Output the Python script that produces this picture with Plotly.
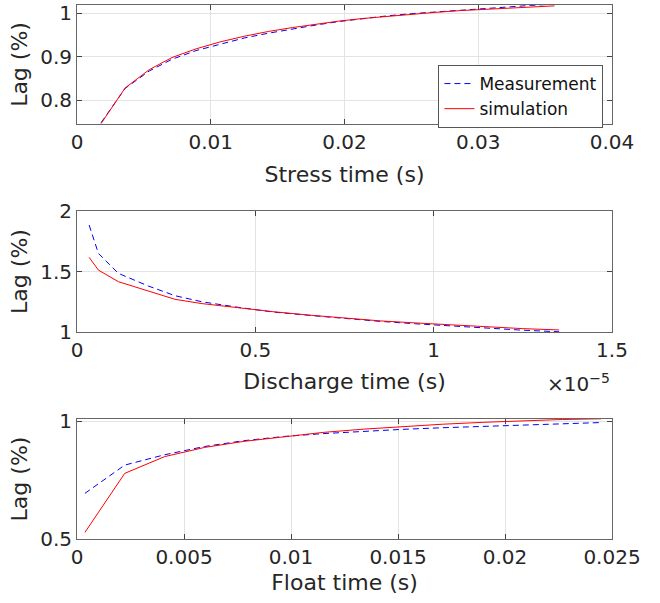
import plotly.graph_objects as go

# ---- Data ----
stress_t = [0.0018, 0.0036, 0.0054, 0.0071, 0.0089, 0.0107, 0.0125, 0.0143, 0.0161, 0.0179,
            0.0196, 0.0214, 0.0232, 0.0250, 0.0268, 0.0286, 0.0304, 0.0321, 0.0339, 0.0357]
stress_meas = [0.748, 0.827, 0.867, 0.894, 0.914, 0.929, 0.943, 0.954, 0.964, 0.973,
               0.981, 0.988, 0.994, 0.999, 1.003, 1.007, 1.011, 1.015, 1.018, 1.021]
stress_sim = [0.746, 0.828, 0.870, 0.898, 0.918, 0.934, 0.947, 0.958, 0.967, 0.975,
              0.982, 0.988, 0.993, 0.998, 1.002, 1.006, 1.009, 1.012, 1.015, 1.017]

discharge_t = [0.034e-5, 0.06e-5, 0.116e-5, 0.2e-5, 0.275e-5, 0.35e-5, 0.45e-5, 0.55e-5,
               0.65e-5, 0.75e-5, 0.85e-5, 0.95e-5, 1.05e-5, 1.15e-5, 1.25e-5, 1.352e-5]
discharge_meas = [1.884, 1.650, 1.485, 1.380, 1.300, 1.250, 1.205, 1.165,
                  1.138, 1.110, 1.088, 1.068, 1.050, 1.032, 1.015, 1.002]
discharge_sim = [1.617, 1.512, 1.416, 1.338, 1.270, 1.235, 1.200, 1.168,
                 1.140, 1.113, 1.092, 1.075, 1.058, 1.042, 1.028, 1.017]

float_t = [0.00037, 0.00223, 0.00409, 0.00595, 0.0078, 0.0097, 0.0115,
           0.0134, 0.0152, 0.0171, 0.0190, 0.0208, 0.0227, 0.0245]
float_meas = [0.694, 0.814, 0.858, 0.893, 0.918, 0.936, 0.948,
              0.958, 0.966, 0.973, 0.979, 0.984, 0.990, 0.995]
float_sim = [0.528, 0.779, 0.850, 0.889, 0.915, 0.936, 0.953,
             0.967, 0.978, 0.988, 0.996, 1.003, 1.008, 1.011]

x1_ticks = [0, 0.01, 0.02, 0.03, 0.04]
x1_text = ["0", "0.01", "0.02", "0.03", "0.04"]
y1_ticks = [0.8, 0.9, 1.0]
y1_text = ["0.8", "0.9", "1"]
x2_ticks = [0, 0.5e-5, 1.0e-5, 1.5e-5]
x2_text = ["0", "0.5", "1", "1.5"]
y2_ticks = [1.0, 1.5, 2.0]
y2_text = ["1", "1.5", "2"]
x3_ticks = [0, 0.005, 0.01, 0.015, 0.02, 0.025]
x3_text = ["0", "0.005", "0.01", "0.015", "0.02", "0.025"]
y3_ticks = [0.5, 1.0]
y3_text = ["0.5", "1"]

BLUE = "rgb(0,0,255)"
RED = "rgb(255,0,0)"
FONT = "DejaVu Sans"
TXT = "#262626"

fig = go.Figure()
pairs = [("x", "y", stress_t, stress_meas, stress_sim, True),
         ("x2", "y2", discharge_t, discharge_meas, discharge_sim, False),
         ("x3", "y3", float_t, float_meas, float_sim, False)]
for xa, ya, t, m, s, show in pairs:
    fig.add_trace(go.Scatter(x=t, y=m, mode="lines", name="Measurement", xaxis=xa, yaxis=ya,
                             line=dict(color=BLUE, width=1, dash="6px,4px"), showlegend=show))
    fig.add_trace(go.Scatter(x=t, y=s, mode="lines", name="simulation", xaxis=xa, yaxis=ya,
                             line=dict(color=RED, width=1), showlegend=show))

def axstyle(**kw):
    d = dict(showline=True, linecolor="#666666", linewidth=1, mirror="ticks",
             ticks="inside", ticklen=5, tickcolor="#444444", showgrid=True,
             gridcolor="#e3e3e3", gridwidth=1, zeroline=False, automargin=False,
             tickfont=dict(family=FONT, size=20, color=TXT), tickmode="array")
    d.update(kw)
    return d

tfont = dict(family=FONT, size=22, color=TXT)

fig.update_layout(
    width=660, height=603,
    margin=dict(l=77, r=48, t=5, b=64),
    paper_bgcolor="white", plot_bgcolor="white",
    font=dict(family=FONT, color=TXT),
    showlegend=True,
    legend=dict(x=0.984, y=0.8876, xanchor="right", yanchor="top",
                bgcolor="white", bordercolor="#555555", borderwidth=1,
                font=dict(family=FONT, size=17, color="#111111"),
                tracegroupgap=0, itemwidth=30),
    xaxis=axstyle(domain=[0, 1], anchor="y", range=[0, 0.04], tickvals=x1_ticks, ticktext=x1_text,
                  title=dict(text="Stress time (s)", font=tfont, standoff=13)),
    yaxis=axstyle(domain=[0.7772, 1.0], anchor="x", range=[0.745, 1.019], tickvals=y1_ticks, ticktext=y1_text,
                  title=dict(text="Lag (%)", font=tfont, standoff=6)),
    xaxis2=axstyle(domain=[0, 1], anchor="y2", range=[0, 1.5e-5], tickvals=x2_ticks, ticktext=x2_text,
                   title=dict(text="Discharge time (s)", font=tfont, standoff=12)),
    yaxis2=axstyle(domain=[0.3876, 0.6142], anchor="x2", range=[1.0, 2.0], tickvals=y2_ticks, ticktext=y2_text,
                   title=dict(text="Lag (%)", font=tfont, standoff=6)),
    xaxis3=axstyle(domain=[0, 1], anchor="y3", range=[0, 0.025], tickvals=x3_ticks, ticktext=x3_text,
                   title=dict(text="Float time (s)", font=tfont, standoff=6)),
    yaxis3=axstyle(domain=[0.0, 0.2247], anchor="x3", range=[0.5, 1.01], tickvals=y3_ticks, ticktext=y3_text,
                   title=dict(text="Lag (%)", font=tfont, standoff=6)),
)

fig.add_annotation(text="×10<sup>−5</sup>", xref="paper", yref="paper", x=1.0, y=0.3876,
                   xanchor="right", yanchor="top", yshift=-36, showarrow=False,
                   font=dict(family=FONT, size=20, color=TXT))

fig.write_html("out.html", config={"displayModeBar": False},
               post_script="document.body.style.margin='0';")
